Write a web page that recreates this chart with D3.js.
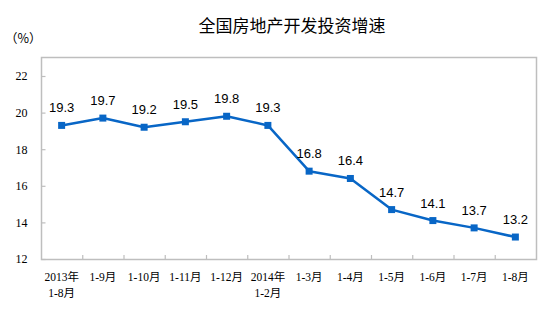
<!DOCTYPE html>
<html>
<head>
<meta charset="utf-8">
<script src="https://cdn.jsdelivr.net/npm/d3@7"></script>
<style>
html,body{margin:0;padding:0;background:#fff;}
svg{display:block;}
</style>
</head>
<body>
<svg id="chart" width="554" height="335"></svg>
<script>
const categories = [["2013年","1-8月"],["1-9月"],["1-10月"],["1-11月"],["1-12月"],["2014年","1-2月"],["1-3月"],["1-4月"],["1-5月"],["1-6月"],["1-7月"],["1-8月"]];
const values = [19.3, 19.7, 19.2, 19.5, 19.8, 19.3, 16.8, 16.4, 14.7, 14.1, 13.7, 13.2];
const yTicks = [12, 14, 16, 18, 20, 22];
const title = "全国房地产开发投资增速";
const unitLabel = "（%）";

(function() {
const svg = d3.select("#chart");
const pLeft = 41, pRight = 536, pTop = 57, pBottom = 259;
const color = "#0866C6";
const axisColor = "#BEBEBE";
const serif = "'Liberation Serif','Times New Roman','Noto Sans CJK SC',serif";
const cjk = "'Noto Sans CJK SC',sans-serif";

const keys = categories.map((c, i) => i);
const x = d3.scaleBand().domain(keys).range([pLeft, pRight]);
const y = d3.scaleLinear().domain([12, 22]).range([pBottom, 76]);

// title
svg.append("text").attr("x", 292).attr("y", 32).attr("text-anchor", "middle")
  .attr("font-family", cjk).attr("font-size", 17).attr("fill", "#000").text(title);
svg.append("text").attr("x", 5).attr("y", 43)
  .attr("font-family", cjk).attr("font-size", 12.5).attr("fill", "#000").text(unitLabel);

// plot border
svg.append("rect").attr("x", pLeft + 0.5).attr("y", pTop + 0.5)
  .attr("width", pRight - pLeft).attr("height", pBottom - pTop)
  .attr("fill", "none").attr("stroke", axisColor).attr("stroke-width", 1.5);

// y axis
const yAxis = d3.axisLeft(y).tickValues(yTicks).tickSize(-4).tickPadding(14).tickFormat(d3.format("d"));
const gy = svg.append("g").attr("transform", `translate(${pLeft + 0.5},0)`).call(yAxis);
gy.select(".domain").remove();
gy.selectAll(".tick line").attr("stroke", axisColor).attr("stroke-width", 1.2);
gy.selectAll(".tick text").attr("font-family", serif).attr("font-size", 12).attr("fill", "#000");

// x axis ticks at category boundaries
const boundaries = keys.slice(1).map(k => x(k));
svg.append("g").selectAll("line").data(boundaries).join("line")
  .attr("x1", d => d + 0.5).attr("x2", d => d + 0.5)
  .attr("y1", pBottom).attr("y2", pBottom - 4)
  .attr("stroke", axisColor).attr("stroke-width", 1.2);

const xl = svg.append("g").selectAll("text").data(categories).join("text")
  .attr("x", (d, i) => x(i) + x.bandwidth() / 2)
  .attr("y", 281)
  .attr("text-anchor", "middle")
  .attr("font-family", serif).attr("font-size", 11.5).attr("fill", "#000");
xl.each(function(d) {
  const t = d3.select(this);
  d.forEach((line, j) => {
    t.append("tspan").attr("x", t.attr("x")).attr("dy", j === 0 ? 0 : 15.5).text(line);
  });
});

// line
const cx = i => x(i) + x.bandwidth() / 2;
const line = d3.line().x((d, i) => cx(i)).y(d => y(d));
svg.append("path").datum(values).attr("d", line)
  .attr("fill", "none").attr("stroke", color).attr("stroke-width", 2.5).attr("stroke-linejoin", "round");

// markers
svg.append("g").selectAll("rect").data(values).join("rect")
  .attr("x", (d, i) => cx(i) - 3.5).attr("y", d => y(d) - 3.5)
  .attr("width", 7).attr("height", 7).attr("fill", color);

// labels
svg.append("g").selectAll("text").data(values).join("text")
  .attr("x", (d, i) => cx(i)).attr("y", d => y(d) - 13)
  .attr("text-anchor", "middle")
  .attr("font-family", "'Liberation Sans',Arial,sans-serif").attr("font-size", 13).attr("fill", "#000")
  .text(d => d.toFixed(1));
})();
</script>
</body>
</html>
